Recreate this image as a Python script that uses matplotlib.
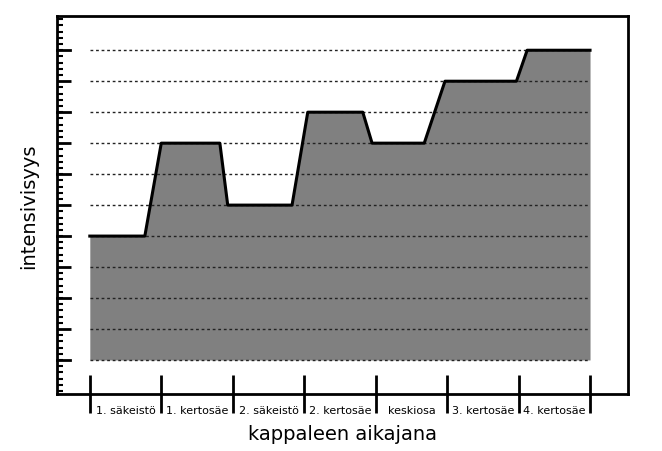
import numpy as np
import matplotlib.pyplot as plt
from matplotlib.ticker import MultipleLocator

# kappaleen osat ja intensiteettikäyrä
sections = ['1. säkeistö', '1. kertosäe', '2. säkeistö', '2. kertosäe',
            'keskiosa', '3. kertosäe', '4. kertosäe']
x_pts = [0, 0.77, 1.0, 1.82, 1.93, 2.83, 3.05, 3.82, 3.95, 4.68, 4.97,
         5.97, 6.12, 7.0]
y_pts = [4, 4, 7, 7, 5, 5, 8, 8, 7, 7, 9, 9, 10, 10]

fig = plt.figure(figsize=(6.62, 4.52), dpi=100)
ax = fig.add_axes([0.086, 0.126, 0.8625, 0.836])

ax.fill_between(x_pts, 0, y_pts, color='#808080', lw=0, zorder=1)
for lev in range(0, 11):
    ax.plot([0, 7], [lev, lev], ls=(0, (2, 2)), color='#222222', lw=1.0,
            zorder=2)
ax.plot(x_pts, y_pts, color='black', lw=2.2, zorder=3)

ax.set_xlim(-0.46, 7.53)
ax.set_ylim(-1.1, 11.1)

for s in ax.spines.values():
    s.set_linewidth(2)

ax.yaxis.set_major_locator(MultipleLocator(2))
ax.yaxis.set_minor_locator(MultipleLocator(0.2))
ax.set_yticks(np.arange(1, 11, 2), minor=False)
ax.set_yticklabels([])
ax.tick_params(axis='y', which='major', direction='in', length=10, width=2)
ax.tick_params(axis='y', which='minor', direction='in', length=4, width=1.5)
for lev in np.arange(0, 11, 2):
    ax.plot([-0.46, -0.28], [lev, lev], color='black', lw=2,
            clip_on=False, zorder=4)

ax.set_xticks(np.arange(0, 8))
ax.set_xticklabels([])
ax.set_xticks(np.arange(0.5, 7), minor=True)
ax.set_xticklabels(sections, minor=True, fontsize=8)
ax.tick_params(axis='x', which='major', direction='inout', length=28,
               width=2)
ax.tick_params(axis='x', which='minor', length=0, pad=8)

ax.set_xlabel('kappaleen aikajana', fontsize=14)
ax.set_ylabel('intensivisyys', fontsize=14, labelpad=10)

fig.savefig('out.png', dpi=100)
